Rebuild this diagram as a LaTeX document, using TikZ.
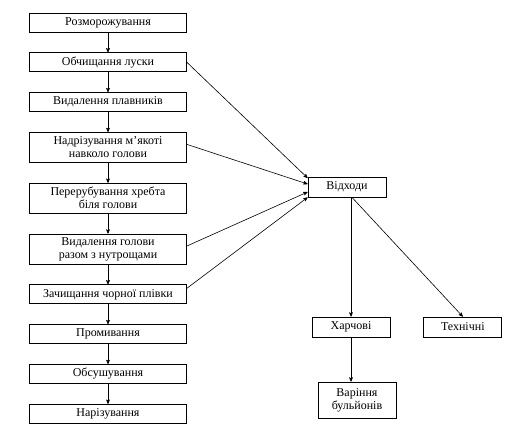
\documentclass[tikz,border=0pt]{standalone}
\usepackage{fontspec}
\setmainfont{Liberation Serif}
\usetikzlibrary{arrows,positioning}

\begin{document}
\begin{tikzpicture}[->,>=stealth',x=1pt,y=-1pt,node distance=20pt,
  semithick,stage/.style={rectangle,draw,line width=0.8pt,
  minimum width=157pt,minimum height=19pt,inner sep=2pt,
  font=\fontsize{12}{13}\selectfont},
  two line/.style={align=center,minimum height=30pt},
  side box/.style={rectangle,draw,line width=0.8pt,minimum width=78pt,
  minimum height=20pt,inner sep=2pt,font=\fontsize{12}{13}\selectfont}]

  \useasboundingbox (0,0) rectangle (509,429);

  % main line of processing, top to bottom
  \node[stage] (Rozm) at (108,22.5) {Розморожування};
  \node[stage] (Obch) [below=of Rozm] {Обчищання луски};
  \node[stage] (Plav) [below=of Obch] {Видалення плавників};
  \node[stage,two line] (Nadr) [below=of Plav] {Надрізування м’якоті\\навколо голови};
  \node[stage,two line] (Pere) [below=of Nadr] {Перерубування хребта\\біля голови};
  \node[stage,two line] (Vgol) [below=of Pere] {Видалення голови\\разом з нутрощами};
  \node[stage] (Zach) [below=of Vgol] {Зачищання чорної плівки};
  \node[stage] (Prom) [below=of Zach] {Промивання};
  \node[stage] (Obsu) [below=of Prom] {Обсушування};
  \node[stage] (Nari) [below=of Obsu] {Нарізування};

  % waste
  \node[side box] (Vidh) at (347,187) {Відходи};
  \node[side box] (Harch) at (351,327) {Харчові};
  \node[side box] (Tehn) [right=33pt of Harch] {Технічні};
  \node[side box,two line,minimum height=36pt] (Var) at (357,400) {Варіння\\бульйонів};

  \path
    (Rozm) edge (Obch)
    (Obch) edge (Plav)
    (Plav) edge (Nadr)
    (Nadr) edge (Pere)
    (Pere) edge (Vgol)
    (Vgol) edge (Zach)
    (Zach) edge (Prom)
    (Prom) edge (Obsu)
    (Obsu) edge (Nari);

  % waste arrows into Vidh
  \path
    (Obch.east) edge ([yshift=9pt]Vidh.west)
    ([yshift=3pt]Nadr.east) edge ([yshift=3pt]Vidh.west)
    ([yshift=3pt]Vgol.east) edge ([yshift=-5pt]Vidh.west)
    ([yshift=6pt]Zach.east) edge (Vidh.south west);

  \path
    (Harch.north |- Vidh.south) edge (Harch.north)
    ([xshift=5pt]Vidh.south) edge (Tehn.north)
    (Harch.south) edge (Var.north -| Harch.south);
\end{tikzpicture}
\end{document}
